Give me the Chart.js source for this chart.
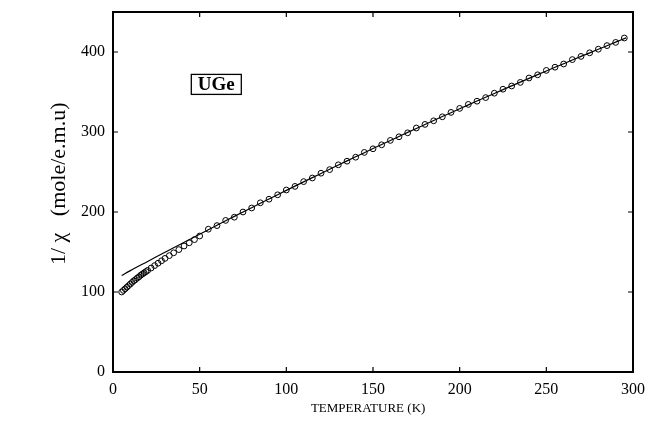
<!DOCTYPE html>
<html>
<head>
<meta charset="utf-8">
<script src="https://cdn.jsdelivr.net/npm/chart.js@4.4.1/dist/chart.umd.min.js"></script>
<style>
  html, body { margin: 0; padding: 0; background: #fff; }
  canvas { display: block; }
</style>
</head>
<body>
<canvas id="myChart" width="649" height="423"></canvas>
<script>
// measured 1/chi (mole/e.m.u) vs temperature (K)
const temps = [5, 6, 7, 8, 9, 10, 11, 12, 13, 14, 15, 16, 17, 18, 19, 20,
  22, 24, 26, 28, 30, 32.5, 35, 38, 41, 44, 47, 50,
  55, 60, 65, 70, 75, 80, 85, 90, 95, 100, 105, 110, 115, 120, 125, 130,
  135, 140, 145, 150, 155, 160, 165, 170, 175, 180, 185, 190, 195, 200,
  205, 210, 215, 220, 225, 230, 235, 240, 245, 250, 255, 260, 265, 270,
  275, 280, 285, 290, 295];
const invChi = [100, 102, 104, 106, 108, 110, 112, 114, 115.5, 117.5, 119, 121, 122.5, 124, 125.5, 127,
  130, 133, 136, 139, 142, 145.5, 149, 153, 157.5, 161.5, 165.5, 170,
  178.5, 183, 189.5, 193.5, 200, 205, 211.5, 216, 221.5, 227.5, 232, 238, 242.5, 248.5, 253, 259,
  263.5, 268.5, 274.5, 279, 284, 289.5, 294, 299, 305, 309.5, 314, 319, 324.5, 329.5,
  334.5, 338.5, 343, 348.5, 353.5, 357.5, 362, 367.5, 371.5, 377, 381, 385, 390.5, 394.5,
  399, 403.5, 408, 412, 417.5];

// fitted curve
const fitTemps = [5, 10, 20, 30, 40, 50, 60, 70, 80, 90, 100, 110, 120, 130, 140, 150,
  160, 170, 180, 190, 200, 210, 220, 230, 240, 250, 260, 270, 280, 290, 296];
const fitVals = [120.5, 126.7, 138.2, 149.7, 161, 172.3, 183.4, 194.5, 205.4, 216.3, 227, 237.7,
  248.2, 258.7, 269, 279.3, 289.4, 299.5, 309.4, 319.3, 329, 338.7, 348.2, 357.7, 367,
  376.3, 385.4, 394.5, 403.4, 412.3, 417.6];

const xTicks = [0, 50, 100, 150, 200, 250, 300];
const yTicks = [0, 100, 200, 300, 400];
const sampleName = 'UGe';
const sampleLabelAt = [59.6, 359.5];

const serif = "'Liberation Serif', 'DejaVu Serif', serif";

const frame = {
  id: 'frame',
  afterDraw(chart) {
    const {ctx, chartArea: a, scales} = chart;
    ctx.save();
    ctx.strokeStyle = '#000';
    ctx.lineWidth = 2;
    ctx.strokeRect(a.left, a.top, a.right - a.left, a.bottom - a.top);
    ctx.lineWidth = 1.2;
    ctx.beginPath();
    xTicks.forEach(v => {
      const x = scales.x.getPixelForValue(v);
      ctx.moveTo(x, a.bottom); ctx.lineTo(x, a.bottom - 5);
      ctx.moveTo(x, a.top); ctx.lineTo(x, a.top + 5);
    });
    yTicks.forEach(v => {
      const y = scales.y.getPixelForValue(v);
      ctx.moveTo(a.left, y); ctx.lineTo(a.left + 5, y);
      ctx.moveTo(a.right, y); ctx.lineTo(a.right - 5, y);
    });
    ctx.stroke();

    // sample label in a box
    const cx = scales.x.getPixelForValue(sampleLabelAt[0]);
    const cy = scales.y.getPixelForValue(sampleLabelAt[1]);
    ctx.font = 'bold 19px ' + serif;
    ctx.textAlign = 'center';
    ctx.textBaseline = 'middle';
    ctx.fillStyle = '#000';
    ctx.fillText(sampleName, cx, cy + 1);
    ctx.lineWidth = 1.3;
    ctx.strokeRect(cx - 25, cy - 10, 50, 20);
    ctx.restore();
  }
};

const ctx = document.getElementById('myChart').getContext('2d');

const myChart = new Chart(ctx, {
  type: 'scatter',
  data: {
    datasets: [{
      label: 'fit',
      data: fitTemps.map((t, i) => ({x: t, y: fitVals[i]})),
      showLine: true,
      borderColor: '#000',
      borderWidth: 1.2,
      pointRadius: 0,
      tension: 0.3
    }, {
      label: 'data',
      data: temps.map((t, i) => ({x: t, y: invChi[i]})),
      showLine: false,
      pointRadius: 2.9,
      pointBorderWidth: 1,
      pointBorderColor: '#000',
      pointBackgroundColor: 'rgba(255,255,255,0)'
    }]
  },
  options: {
    responsive: false,
    animation: false,
    devicePixelRatio: 1,
    layout: { padding: { left: 0, top: 12, right: 16, bottom: 0 } },
    plugins: { legend: { display: false }, tooltip: { enabled: false } },
    scales: {
      x: {
        type: 'linear',
        min: 0, max: 300,
        grid: { display: false, drawTicks: false },
        border: { display: false },
        afterBuildTicks: s => { s.ticks = xTicks.map(v => ({value: v})); },
        afterFit: s => { s.height = 51; s.paddingLeft = 0; s.paddingRight = 0; },
        ticks: { color: '#000', padding: 8, maxRotation: 0, font: { family: serif, size: 16 } },
        title: {
          display: true, text: 'TEMPERATURE (K)   ', color: '#000',
          padding: { top: 7, bottom: 7 },
          font: { family: serif, size: 13 }
        }
      },
      y: {
        type: 'linear',
        min: 0, max: 450,
        grid: { display: false, drawTicks: false },
        border: { display: false },
        afterBuildTicks: s => { s.ticks = yTicks.map(v => ({value: v})); },
        afterFit: s => { s.width = 113; s.paddingTop = 0; s.paddingBottom = 0; },
        ticks: { color: '#000', padding: 8, font: { family: serif, size: 16 } },
        title: {
          display: true, text: '   1/ χ   (mole/e.m.u)', color: '#000',
          padding: { top: 46, bottom: 0 },
          font: { family: serif, size: 22 }
        }
      }
    }
  },
  plugins: [frame]
});
</script>
</body>
</html>
